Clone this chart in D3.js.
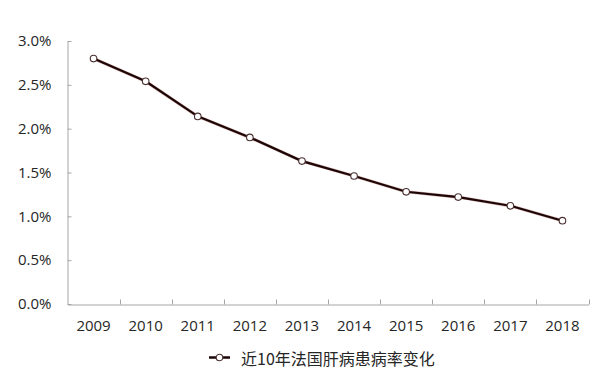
<!DOCTYPE html>
<html>
<head>
<meta charset="utf-8">
<script src="https://cdn.jsdelivr.net/npm/d3@7"></script>
<style>
  html, body { margin: 0; padding: 0; background: #fff; }
  svg { display: block; }
</style>
</head>
<body>
<svg id="chart" width="604" height="380"></svg>
<script>
// 年份与患病率
var years = ['2009', '2010', '2011', '2012', '2013', '2014', '2015', '2016', '2017', '2018'];
var rates = [0.0280, 0.0254, 0.0214, 0.0190, 0.0163, 0.0146, 0.0128, 0.0122, 0.0112, 0.0095];
var yTicks = [0, 0.005, 0.01, 0.015, 0.02, 0.025, 0.03];
var seriesName = '近10年法国肝病患病率变化';

var svg = d3.select('#chart');
var font = '"Open Sans", "Noto Sans CJK SC", sans-serif';
var axisColor = '#a6a6a6';
var textColor = '#262626';
var lineColor = '#1c0505';

var x = d3.scaleBand().domain(years).range([67.5, 588.5]).padding(0);
var y = d3.scaleLinear().domain([0, 0.03]).range([304, 41]);

// y轴
var yAxis = svg.append('g')
    .attr('transform', 'translate(67.5,0)')
    .call(d3.axisLeft(y)
        .tickValues(yTicks)
        .tickSizeInner(-4)
        .tickSizeOuter(0)
        .tickPadding(16)
        .tickFormat(d3.format('.1%')));
yAxis.select('.domain').attr('stroke', axisColor);
yAxis.selectAll('.tick line').attr('stroke', axisColor);
yAxis.selectAll('text')
    .attr('fill', textColor)
    .attr('font-family', font)
    .attr('font-size', 15);

// x轴，标签居中
var xAxis = svg.append('g')
    .attr('transform', 'translate(0,304.5)')
    .call(d3.axisBottom(x).tickSize(0).tickPadding(16));
xAxis.select('.domain').attr('stroke', axisColor);
xAxis.selectAll('text')
    .attr('fill', textColor)
    .attr('font-family', font)
    .attr('font-size', 15);

// 分类边界刻度（朝上）
var bounds = years.slice(1).map(function (d) { return x(d); }).concat([x.range()[1]]);
svg.append('g')
    .selectAll('line')
    .data(bounds)
    .enter()
    .append('line')
    .attr('x1', function (d) { return Math.round(d) + 0.5; })
    .attr('x2', function (d) { return Math.round(d) + 0.5; })
    .attr('y1', 304.5)
    .attr('y2', 299.5)
    .attr('stroke', axisColor);

// 折线
var line = d3.line()
    .x(function (d, i) { return x(years[i]) + x.bandwidth() / 2; })
    .y(function (d) { return y(d); });

svg.append('path')
    .datum(rates)
    .attr('d', line)
    .attr('fill', 'none')
    .attr('stroke', '#8a2222')
    .attr('stroke-width', 3.2)
    .attr('stroke-opacity', 0.35);

svg.append('path')
    .datum(rates)
    .attr('d', line)
    .attr('fill', 'none')
    .attr('stroke', lineColor)
    .attr('stroke-width', 2.2);

svg.append('g')
    .selectAll('circle')
    .data(rates)
    .enter()
    .append('circle')
    .attr('cx', function (d, i) { return x(years[i]) + x.bandwidth() / 2; })
    .attr('cy', function (d) { return y(d); })
    .attr('r', 3.3)
    .attr('fill', '#fff')
    .attr('stroke', '#4a3030')
    .attr('stroke-width', 1.1);

// 图例
var legend = svg.append('g').attr('transform', 'translate(209,357.5)');
legend.append('line')
    .attr('x1', 0).attr('x2', 21)
    .attr('stroke', lineColor)
    .attr('stroke-width', 2.5);
legend.append('circle')
    .attr('cx', 10.5)
    .attr('r', 3.3)
    .attr('fill', '#fff')
    .attr('stroke', '#4a3030')
    .attr('stroke-width', 1.1);
legend.append('text')
    .attr('x', 32)
    .attr('y', 0)
    .attr('dominant-baseline', 'central')
    .attr('fill', textColor)
    .attr('font-family', '"Noto Sans CJK SC", sans-serif')
    .attr('font-size', 16)
    .text(seriesName);
</script>
</body>
</html>
